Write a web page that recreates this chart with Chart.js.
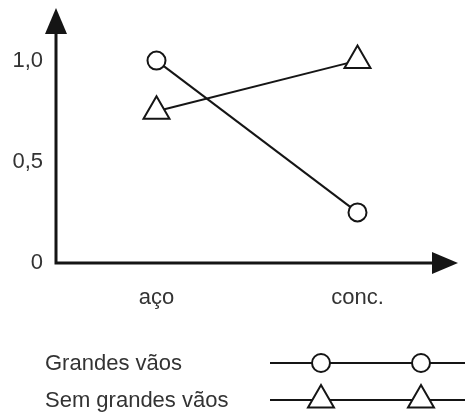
<!DOCTYPE html>
<html>
<head>
<meta charset="utf-8">
<script src="https://cdn.jsdelivr.net/npm/chart.js@4"></script>
<style>
    body { margin: 0; background: #fff; }
    canvas { display: block; }
</style>
</head>
<body>
<canvas id="chart" width="465" height="414"></canvas>
<script>
// data
const categories = ['aço', 'conc.'];
const seriesNames = ['Grandes vãos', 'Sem grandes vãos'];
const grandesVaos = [1.0, 0.25];
const semGrandesVaos = [0.75, 1.0];
const yTicks = [0, 0.5, 1.0];
const yTickLabels = ['0', '0,5', '1,0'];

const ink = '#151515';
const textColor = '#333';
const font = { family: "'Liberation Sans', Arial, sans-serif", size: 22 };

// fixed room around the plot instead of the automatic label overflow
function setPadding(scale, top, right) {
    scale.paddingTop = top;
    scale.paddingBottom = 0;
    scale.paddingLeft = 0;
    scale.paddingRight = right;
}

// draws both axes with arrow heads
const axisArrows = {
    id: 'axisArrows',
    afterDraw(chart) {
        const ctx = chart.ctx;
        const a = chart.chartArea;
        ctx.save();
        ctx.strokeStyle = ink;
        ctx.fillStyle = ink;
        ctx.lineWidth = 3;
        ctx.beginPath();
        ctx.moveTo(a.left, a.bottom + 1.5);
        ctx.lineTo(a.left, a.top + 20);
        ctx.moveTo(a.left - 1.5, a.bottom);
        ctx.lineTo(a.right - 20, a.bottom);
        ctx.stroke();
        ctx.beginPath();
        ctx.moveTo(a.left, a.top);
        ctx.lineTo(a.left - 11, a.top + 26);
        ctx.lineTo(a.left + 11, a.top + 26);
        ctx.closePath();
        ctx.fill();
        ctx.beginPath();
        ctx.moveTo(a.right, a.bottom);
        ctx.lineTo(a.right - 26, a.bottom - 11);
        ctx.lineTo(a.right - 26, a.bottom + 11);
        ctx.closePath();
        ctx.fill();
        ctx.restore();
    }
};

// legend: name on the left, sample line with two markers on the right
const lineLegend = {
    id: 'lineLegend',
    afterDraw(chart) {
        const ctx = chart.ctx;
        ctx.save();
        chart.data.datasets.forEach((ds, i) => {
            const y = 363 + i * 37;
            ctx.fillStyle = textColor;
            ctx.font = font.size + 'px ' + font.family;
            ctx.textAlign = 'left';
            ctx.textBaseline = 'middle';
            ctx.fillText(ds.label, 45, y + 1);
            ctx.strokeStyle = ink;
            ctx.lineWidth = 2;
            ctx.beginPath();
            ctx.moveTo(270, y);
            ctx.lineTo(465, y);
            ctx.stroke();
            [321, 421].forEach(x => {
                ctx.fillStyle = '#fff';
                ctx.strokeStyle = ink;
                Chart.helpers.drawPoint(ctx, {
                    pointStyle: ds.pointStyle,
                    radius: ds.pointRadius,
                    rotation: 0,
                    borderWidth: 2
                }, x, y);
            });
        });
        ctx.restore();
    }
};

const ctx = document.getElementById('chart').getContext('2d');
new Chart(ctx, {
    type: 'line',
    data: {
        labels: categories,
        datasets: [{
            label: seriesNames[0],
            data: grandesVaos,
            borderColor: ink,
            borderWidth: 2,
            pointStyle: 'circle',
            pointRadius: 9,
            pointBorderWidth: 2,
            pointBackgroundColor: '#fff',
            pointBorderColor: ink,
            tension: 0
        }, {
            label: seriesNames[1],
            data: semGrandesVaos,
            borderColor: ink,
            borderWidth: 2,
            pointStyle: 'triangle',
            pointRadius: 15,
            pointBorderWidth: 2,
            pointBackgroundColor: '#fff',
            pointBorderColor: ink,
            tension: 0
        }]
    },
    options: {
        responsive: false,
        animation: false,
        layout: { padding: 0, autoPadding: false },
        scales: {
            x: {
                offset: true,
                grid: { display: false, drawTicks: false },
                border: { display: false },
                ticks: { color: textColor, font: font, padding: 22 },
                afterFit(scale) {
                    scale.height = 151;
                    setPadding(scale, 0, 7);
                }
            },
            y: {
                min: 0,
                max: 1.26,
                grid: { display: false, drawTicks: false },
                border: { display: false },
                afterBuildTicks(scale) {
                    scale.ticks = yTicks.map(v => ({ value: v }));
                },
                ticks: {
                    color: textColor,
                    font: font,
                    padding: 13,
                    callback: (v) => yTickLabels[yTicks.indexOf(v)]
                },
                afterFit(scale) {
                    scale.width = 56;
                    setPadding(scale, 8, 0);
                }
            }
        },
        plugins: {
            legend: { display: false },
            tooltip: { enabled: false }
        }
    },
    plugins: [axisArrows, lineLegend]
});
</script>
</body>
</html>
